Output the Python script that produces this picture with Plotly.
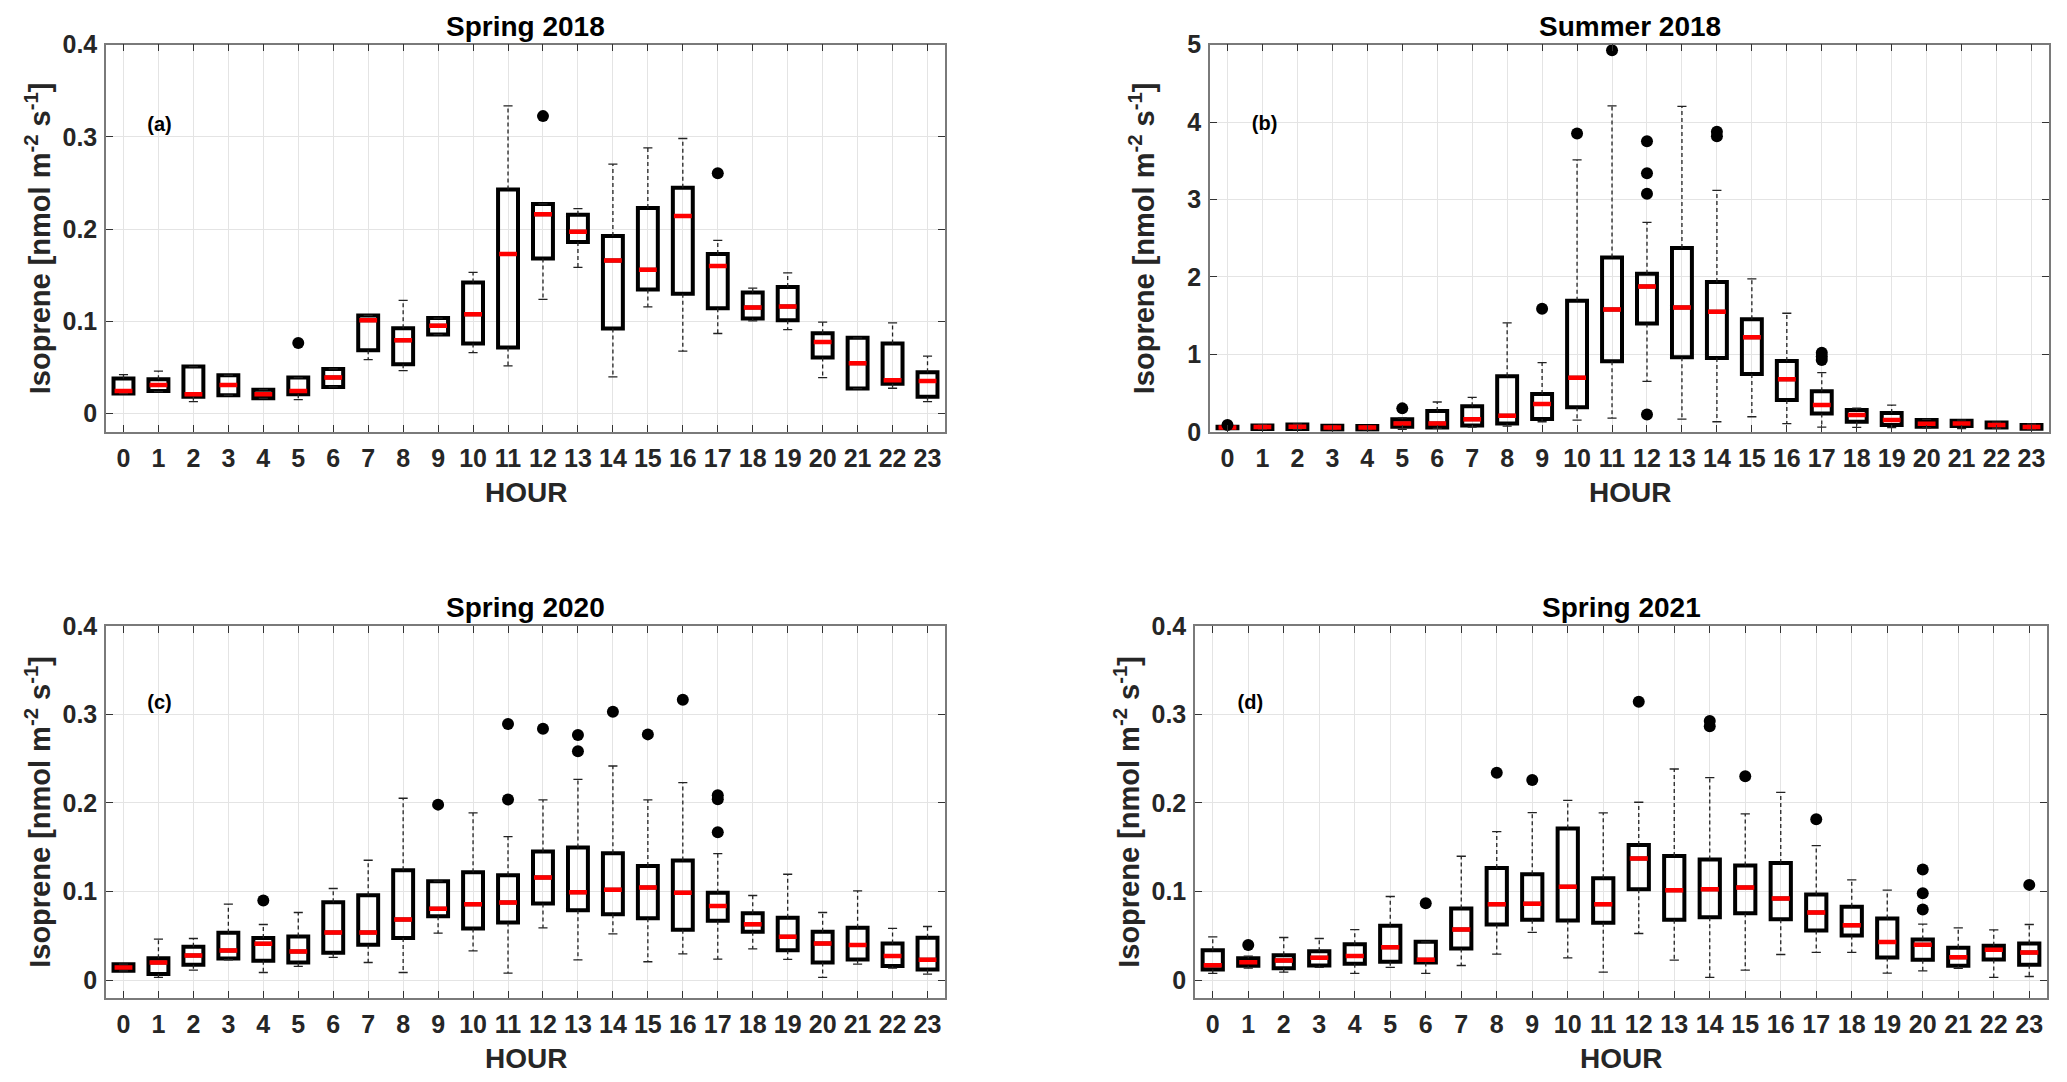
import plotly.graph_objects as go

W, H = 2067, 1082
hours = list(range(24))
hour_labels = [str(h) for h in hours]

# ---------------- Panel (a) Spring 2018 ----------------
a_q1 = [0.0214, 0.0243, 0.0181, 0.0196, 0.0163, 0.0207, 0.0286, 0.0685, 0.0533, 0.0855, 0.0757, 0.0714,
        0.1681, 0.1859, 0.0920, 0.1344, 0.1297, 0.1141, 0.1029, 0.1011, 0.0605, 0.0268, 0.0322, 0.0181]
a_med = [0.0243, 0.0308, 0.0207, 0.0308, 0.0207, 0.0243, 0.0388, 0.1011, 0.0793, 0.0949, 0.1076, 0.1728,
         0.2159, 0.1971, 0.1659, 0.1558, 0.2141, 0.1598, 0.1149, 0.1159, 0.0775, 0.0543, 0.0359, 0.0351]
a_q3 = [0.0377, 0.0370, 0.0507, 0.0413, 0.0257, 0.0388, 0.0482, 0.1062, 0.0924, 0.1033, 0.1420, 0.2428,
        0.2272, 0.2156, 0.1924, 0.2228, 0.2449, 0.1728, 0.1312, 0.1370, 0.0870, 0.0819, 0.0757, 0.0446]
a_lo = [0.0214, 0.0236, 0.0127, 0.0196, 0.0163, 0.0149, 0.0286, 0.0583, 0.0464, 0.0855, 0.0659, 0.0514,
        0.1236, 0.1583, 0.0395, 0.1156, 0.0674, 0.0866, 0.1004, 0.0909, 0.0388, 0.0268, 0.0272, 0.0127]
a_hi = [0.0420, 0.0457, 0.0507, 0.0413, 0.0257, 0.0388, 0.0482, 0.1062, 0.1225, 0.1033, 0.1529, 0.3337,
        0.2272, 0.2221, 0.2703, 0.2880, 0.2982, 0.1877, 0.1359, 0.1525, 0.0989, 0.0819, 0.0982, 0.0620]
a_out_h = [5, 12, 17]
a_out_v = [0.0764, 0.3225, 0.2605]

# ---------------- Panel (b) Summer 2018 ----------------
b_q1 = [0.045, 0.035, 0.035, 0.030, 0.030, 0.065, 0.056, 0.082, 0.108, 0.164, 0.315, 0.910,
        1.398, 0.962, 0.953, 0.746, 0.410, 0.237, 0.129, 0.086, 0.065, 0.073, 0.056, 0.039]
b_med = [0.055, 0.060, 0.065, 0.056, 0.055, 0.108, 0.108, 0.160, 0.207, 0.358, 0.699, 1.579,
         1.877, 1.605, 1.549, 1.221, 0.677, 0.345, 0.216, 0.151, 0.104, 0.108, 0.086, 0.060]
b_q3 = [0.065, 0.082, 0.095, 0.078, 0.075, 0.160, 0.267, 0.328, 0.716, 0.487, 1.691, 2.252,
        2.040, 2.373, 1.933, 1.454, 0.915, 0.522, 0.280, 0.242, 0.151, 0.142, 0.121, 0.086]
b_lo = [0.040, 0.030, 0.030, 0.028, 0.028, 0.030, 0.043, 0.060, 0.073, 0.129, 0.151, 0.177,
        0.651, 0.164, 0.129, 0.194, 0.104, 0.060, 0.056, 0.052, 0.050, 0.040, 0.045, 0.035]
b_hi = [0.070, 0.090, 0.100, 0.080, 0.078, 0.180, 0.384, 0.444, 1.406, 0.893, 3.512, 4.210,
        2.705, 4.202, 3.119, 1.976, 1.531, 0.764, 0.306, 0.345, 0.160, 0.150, 0.125, 0.100]
b_out_h = [0, 5, 9, 10, 11, 12, 12, 12, 12, 14, 14, 17, 17, 17]
b_out_v = [0.086, 0.302, 1.588, 3.852, 4.927, 3.753, 3.339, 3.076, 0.224, 3.874, 3.818, 1.022, 0.971, 0.928]

# ---------------- Panel (c) Spring 2020 ----------------
c_q1 = [0.0105, 0.0068, 0.0173, 0.0244, 0.0218, 0.0199, 0.0308, 0.0398, 0.0474, 0.0722, 0.0583, 0.0650,
        0.0865, 0.0789, 0.0744, 0.0699, 0.0568, 0.0669, 0.0545, 0.0338, 0.0199, 0.0233, 0.0158, 0.0120]
c_med = [0.0143, 0.0199, 0.0278, 0.0335, 0.0410, 0.0323, 0.0538, 0.0538, 0.0684, 0.0805, 0.0857, 0.0876,
         0.1158, 0.0992, 0.1019, 0.1045, 0.0985, 0.0838, 0.0632, 0.0489, 0.0414, 0.0395, 0.0271, 0.0229]
c_q3 = [0.0180, 0.0248, 0.0376, 0.0534, 0.0474, 0.0492, 0.0880, 0.0959, 0.1241, 0.1117, 0.1218, 0.1184,
        0.1451, 0.1496, 0.1432, 0.1289, 0.1350, 0.0985, 0.0756, 0.0703, 0.0545, 0.0590, 0.0414, 0.0477]
c_lo = [0.0105, 0.0030, 0.0113, 0.0230, 0.0086, 0.0154, 0.0256, 0.0199, 0.0086, 0.0530, 0.0331, 0.0079,
        0.0590, 0.0229, 0.0523, 0.0207, 0.0297, 0.0237, 0.0353, 0.0233, 0.0030, 0.0180, 0.0135, 0.0068]
c_hi = [0.0180, 0.0462, 0.0470, 0.0857, 0.0628, 0.0763, 0.1034, 0.1353, 0.2053, 0.1117, 0.1887, 0.1620,
        0.2034, 0.2267, 0.2417, 0.2034, 0.2229, 0.1429, 0.0955, 0.1195, 0.0763, 0.1008, 0.0583, 0.0605]
c_out_h = [4, 9, 11, 11, 12, 13, 13, 14, 15, 16, 17, 17, 17]
c_out_v = [0.0898, 0.1981, 0.2891, 0.2038, 0.2838, 0.2767, 0.2583, 0.3030, 0.2774, 0.3165, 0.2086, 0.2041, 0.1669]

# ---------------- Panel (d) Spring 2021 ----------------
d_q1 = [0.0120, 0.0162, 0.0135, 0.0165, 0.0184, 0.0207, 0.0199, 0.0357, 0.0628, 0.0680, 0.0673, 0.0647,
        0.1026, 0.0680, 0.0711, 0.0756, 0.0688, 0.0560, 0.0504, 0.0256, 0.0229, 0.0162, 0.0233, 0.0173]
d_med = [0.0169, 0.0203, 0.0222, 0.0252, 0.0271, 0.0372, 0.0229, 0.0571, 0.0857, 0.0861, 0.1053, 0.0857,
         0.1372, 0.1015, 0.1026, 0.1045, 0.0921, 0.0763, 0.0620, 0.0429, 0.0398, 0.0259, 0.0342, 0.0312]
d_q3 = [0.0338, 0.0248, 0.0282, 0.0327, 0.0406, 0.0613, 0.0432, 0.0808, 0.1267, 0.1195, 0.1711, 0.1150,
        0.1526, 0.1402, 0.1361, 0.1293, 0.1323, 0.0966, 0.0827, 0.0695, 0.0459, 0.0365, 0.0387, 0.0414]
d_lo = [0.0075, 0.0135, 0.0090, 0.0143, 0.0075, 0.0143, 0.0075, 0.0165, 0.0293, 0.0538, 0.0252, 0.0090,
        0.0526, 0.0226, 0.0030, 0.0113, 0.0289, 0.0312, 0.0312, 0.0079, 0.0105, 0.0132, 0.0030, 0.0041]
d_hi = [0.0489, 0.0270, 0.0481, 0.0470, 0.0571, 0.0944, 0.0432, 0.1398, 0.1677, 0.1891, 0.2030, 0.1887,
        0.2008, 0.2383, 0.2286, 0.1876, 0.2120, 0.1519, 0.1132, 0.1015, 0.0632, 0.0590, 0.0568, 0.0628]
d_out_h = [1, 6, 8, 9, 12, 14, 14, 15, 17, 20, 20, 20, 23]
d_out_v = [0.0395, 0.0868, 0.2342, 0.2259, 0.3143, 0.2925, 0.2865, 0.2301, 0.1816, 0.1248, 0.0981, 0.0797, 0.1075]

titles = ["Spring 2018", "Summer 2018", "Spring 2020", "Spring 2021"]
letters = ["(a)", "(b)", "(c)", "(d)"]
letter_x = [1.03, 1.06, 1.03, 1.06]
letter_y = [0.312, 3.96, 0.312, 0.312]
x_title = "HOUR"
y_title = "Isoprene [nmol m<sup>-2</sup> s<sup>-1</sup>]"
y_ranges = [[-0.02, 0.4], [0, 5], [-0.02, 0.4], [-0.02, 0.4]]
y_dticks = [0.1, 1, 0.1, 0.1]

panels = [
    (a_q1, a_med, a_q3, a_lo, a_hi, a_out_h, a_out_v),
    (b_q1, b_med, b_q3, b_lo, b_hi, b_out_h, b_out_v),
    (c_q1, c_med, c_q3, c_lo, c_hi, c_out_h, c_out_v),
    (d_q1, d_med, d_q3, d_lo, d_hi, d_out_h, d_out_v),
]

# Layout is specified in target-picture pixel rows; the capture maps figure rows
# as pic = 13.3 + 0.974 * fig, so convert back.
def px(x):
    return x / W

def py(y):
    yf = (y - 13.3) / 0.974
    return 1 - yf / H

boxes_px = [  # left, right, top, bottom (target picture pixels)
    (106, 945, 44, 431),
    (1210, 2049, 44, 431),
    (106, 945, 625, 997),
    (1195, 2047, 625, 997),
]
ylab_x = [38, 1142, 38, 1127]

FONT = "Liberation Sans, Arial, sans-serif"
BOX_HALF = 0.285
CAP_HALF = 0.13
MED_HALF = 0.255

fig = go.Figure()
annotations = []
layout_axes = {}

for i, (q1, med, q3, lo, hi, oh, ov) in enumerate(panels):
    n = "" if i == 0 else str(i + 1)
    xa, ya = "x" + n, "y" + n

    wx, wy, cx, cy = [], [], [], []
    for h, a1, a3, l, u in zip(hours, q1, q3, lo, hi):
        wx += [h, h, None, h, h, None]
        wy += [a3, u, None, a1, l, None]
        cx += [h - CAP_HALF, h + CAP_HALF, None, h - CAP_HALF, h + CAP_HALF, None]
        cy += [u, u, None, l, l, None]
    fig.add_trace(go.Scatter(x=wx, y=wy, mode="lines", xaxis=xa, yaxis=ya,
                             line=dict(color="#222222", width=1.3, dash="4px,3px"),
                             hoverinfo="skip", showlegend=False))
    fig.add_trace(go.Scatter(x=cx, y=cy, mode="lines", xaxis=xa, yaxis=ya,
                             line=dict(color="#222222", width=1.3),
                             hoverinfo="skip", showlegend=False))
    fig.add_trace(go.Box(x=hours, q1=q1, median=med, q3=q3, lowerfence=q1, upperfence=q3,
                         xaxis=xa, yaxis=ya, width=2 * BOX_HALF,
                         line=dict(color="black", width=4),
                         fillcolor="rgba(0,0,0,0)", showlegend=False, hoverinfo="skip"))
    mx, my = [], []
    for h, m in zip(hours, med):
        mx += [h - MED_HALF, h + MED_HALF, None]
        my += [m, m, None]
    fig.add_trace(go.Scatter(x=mx, y=my, mode="lines", xaxis=xa, yaxis=ya,
                             line=dict(color="#ff0000", width=4.5),
                             hoverinfo="skip", showlegend=False))
    fig.add_trace(go.Scatter(x=oh, y=ov, mode="markers", xaxis=xa, yaxis=ya,
                             marker=dict(color="black", size=12),
                             hoverinfo="skip", showlegend=False))
    fig.add_trace(go.Scatter(x=[letter_x[i]], y=[letter_y[i]], mode="text", text=[letters[i]],
                             xaxis=xa, yaxis=ya, hoverinfo="skip", showlegend=False,
                             textfont=dict(family=FONT, size=20, color="black", weight="bold")))

    L, R, T, B = boxes_px[i]
    axis_common = dict(showline=True, linecolor="#7a7a7a", linewidth=1.5, mirror="ticks",
                       ticks="inside", ticklen=7, tickcolor="#333333", tickwidth=1.3,
                       showgrid=True, gridcolor="#e4e4e4", gridwidth=1, zeroline=False,
                       tickfont=dict(family=FONT, size=25, color="#262626", weight="bold"))
    layout_axes["xaxis" + n] = dict(axis_common, domain=[px(L), px(R)], anchor=ya,
                                    range=[-0.5, 23.5], tickvals=hours, ticktext=hour_labels,
                                    ticklabelstandoff=3)
    layout_axes["yaxis" + n] = dict(axis_common, domain=[py(B), py(T)], anchor=xa,
                                    range=y_ranges[i], dtick=y_dticks[i], tick0=0,
                                    ticklabelstandoff=2)

    cxp = (L + R) / 2
    annotations.append(dict(text=titles[i], x=px(cxp), y=py(T - 18),
                            xref="paper", yref="paper", showarrow=False, xanchor="center",
                            yanchor="middle",
                            font=dict(family=FONT, size=28, color="black", weight="bold")))
    annotations.append(dict(text=x_title, x=px(cxp), y=py(B + 61),
                            xref="paper", yref="paper", showarrow=False, xanchor="center",
                            yanchor="middle",
                            font=dict(family=FONT, size=28, color="#262626", weight="bold")))
    annotations.append(dict(text=y_title, x=px(ylab_x[i]), y=py((T + B) / 2), textangle=-90,
                            xref="paper", yref="paper", showarrow=False, xanchor="center",
                            yanchor="middle",
                            font=dict(family=FONT, size=29, color="#262626", weight="bold")))

fig.update_layout(width=W, height=H, margin=dict(l=0, r=0, t=0, b=0),
                  paper_bgcolor="white", plot_bgcolor="white",
                  annotations=annotations, showlegend=False, **layout_axes)

page_fix = ("document.body.style.margin='0';document.body.style.padding='0';"
            "document.documentElement.style.overflow='hidden';"
            "var gd=document.getElementById('{plot_id}');"
            "gd.style.position='absolute';gd.style.left='0px';gd.style.top='0px';")

fig.write_html("out.html", post_script=page_fix, config={"displayModeBar": False})
